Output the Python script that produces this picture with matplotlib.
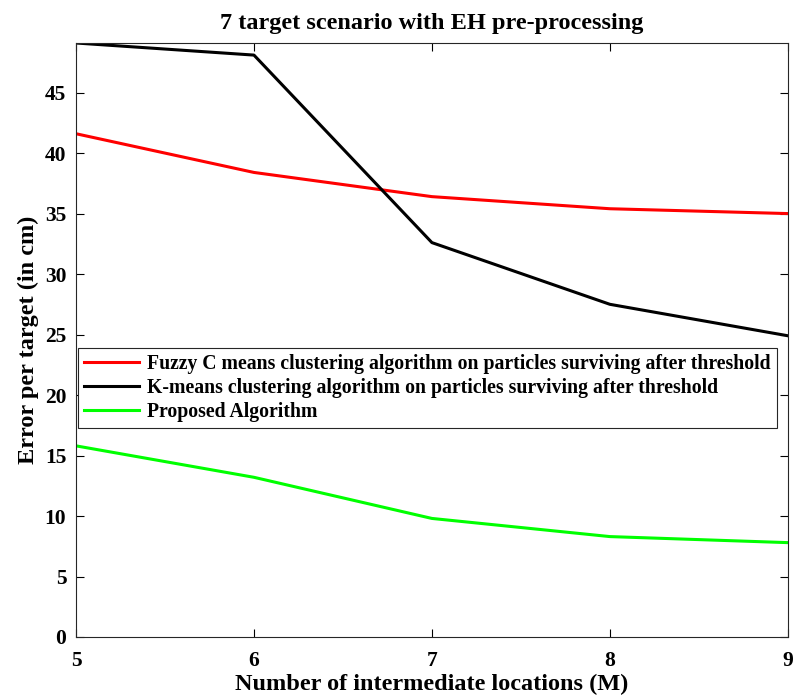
import matplotlib
matplotlib.use("Agg")
import matplotlib.pyplot as plt

plt.rcParams['font.family'] = ['Liberation Serif', 'DejaVu Serif']
plt.rcParams['font.weight'] = 'bold'

m_values = [5, 6, 7, 8, 9]
fuzzy_cmeans = [41.6, 38.4, 36.4, 35.4, 35.0]
kmeans = [49.1, 48.1, 32.6, 27.5, 24.9]
proposed = [15.8, 13.2, 9.8, 8.3, 7.8]

fig = plt.figure(figsize=(7.95, 6.98), dpi=100)
ax = fig.add_axes([0.0956, 0.0874, 0.8954, 0.851])

ax.plot(m_values, fuzzy_cmeans, color='#ff0000', lw=2.2,
        label='Fuzzy C means clustering algorithm on particles surviving after threshold')
ax.plot(m_values, kmeans, color='black', lw=2.2,
        label='K-means clustering algorithm on particles surviving after threshold')
ax.plot(m_values, proposed, color='#00ff00', lw=2.2,
        label='Proposed Algorithm')

ax.set_xlim(5, 9)
ax.set_ylim(0, max(kmeans))
ax.set_xticks(m_values)
ax.set_yticks(range(0, 50, 5))
ax.tick_params(direction='in', top=True, right=True, labelsize=15.5, length=6, width=0.8)
ax.tick_params(axis='x', pad=10)
ax.tick_params(axis='y', pad=7)
for lbl in ax.get_xticklabels() + ax.get_yticklabels():
    lbl.set_fontweight('bold')
for s in ax.spines.values():
    s.set_linewidth(0.8)
    s.set_color('#262626')

ax.set_title('7 target scenario with EH pre-processing', fontsize=17.5, fontweight='bold', pad=10)
ax.set_xlabel('Number of intermediate locations (M)', fontsize=17.5, fontweight='bold', labelpad=2)
ax.set_ylabel('Error per target (in cm)', fontsize=17.5, fontweight='bold', labelpad=4)

leg = ax.legend(loc='upper left', bbox_to_anchor=(0.003, 0.487), fontsize=14.2,
                frameon=True, fancybox=False, edgecolor='#262626', framealpha=1,
                borderpad=0.3, labelspacing=0.22, handlelength=2.8, handletextpad=0.4,
                borderaxespad=0)
leg.get_frame().set_linewidth(0.8)
for t in leg.get_texts():
    t.set_fontweight('bold')

fig.savefig('out.png', dpi=100)
